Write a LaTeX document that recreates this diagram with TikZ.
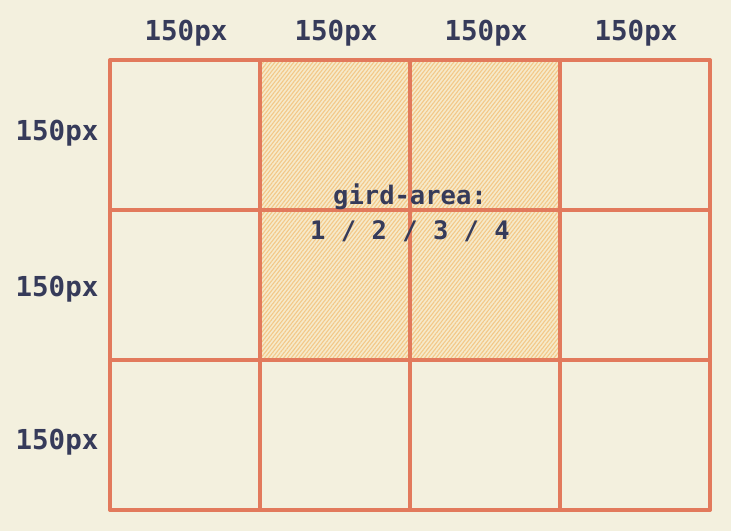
\documentclass[tikz,border=0pt]{standalone}
\usepackage{fontspec}
\setmainfont{DejaVu Sans Mono}
\usetikzlibrary{patterns.meta}
\definecolor{bg}{HTML}{F3F0DE}
\definecolor{gridline}{HTML}{E27A5C}
\definecolor{hatch}{HTML}{F3C888}
\definecolor{hatchbg}{HTML}{F6EACB}
\definecolor{ink}{HTML}{363B5A}
\tikzset{
  lbl/.style={text=ink, font=\fontsize{27.5}{30}\selectfont\bfseries, inner sep=0pt},
  mid/.style={text=ink, font=\fontsize{25.5}{28}\selectfont\bfseries, inner sep=0pt},
  gline/.style={draw=gridline, line width=3.5pt, line cap=round},
}
\begin{document}
\begin{tikzpicture}[x=1pt,y=-1pt]
\fill[bg] (0,0) rectangle (731,531);
\useasboundingbox (0,0) rectangle (731,531);
% hatched area
\fill[hatchbg] (260,60) rectangle (560,360);
\fill[pattern={Lines[angle=52,distance=3pt,line width=1.1pt]}, pattern color=hatch] (260,60) rectangle (560,360);
% grid
\foreach \x in {110,260,410,560,710} \draw[gline] (\x,60) -- (\x,510);
\foreach \y in {60,210,360,510} \draw[gline] (110,\y) -- (710,\y);
% labels
\node[lbl] (c1) at (186,33) {150px};
\node[lbl] (c2) at (336,33) {150px};
\node[lbl] (c3) at (486,33) {150px};
\node[lbl] (c4) at (636,33) {150px};
\node[lbl] (r1) at (57,133) {150px};
\node[lbl] (r2) at (57,289) {150px};
\node[lbl] (r3) at (57,442) {150px};
\node[mid] (ga) at (410,197) {gird-area:};
\node[mid] (gv) at (410,231) {1 / 2 / 3 / 4};
\end{tikzpicture}
\end{document}
